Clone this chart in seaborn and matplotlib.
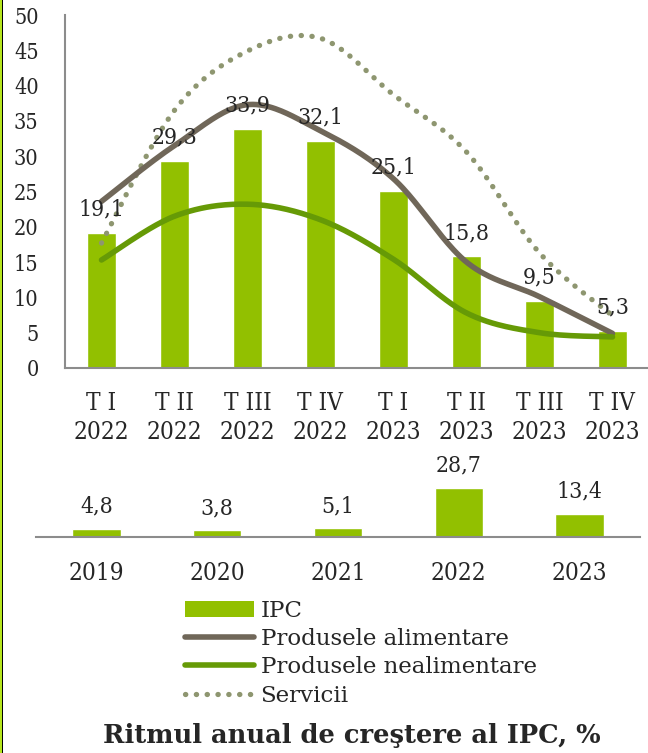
import numpy as np
import pandas as pd
import seaborn as sns
import matplotlib.pyplot as plt
from matplotlib.patches import Patch, Rectangle
from matplotlib.lines import Line2D

# data
quarters = ["T I\n2022", "T II\n2022", "T III\n2022", "T IV\n2022",
            "T I\n2023", "T II\n2023", "T III\n2023", "T IV\n2023"]
ipc = [19.1, 29.3, 33.9, 32.1, 25.1, 15.8, 9.5, 5.3]
alimentare = [23.6, 31.5, 37.3, 33.6, 26.8, 15.0, 10.1, 4.9]
nealimentare = [15.3, 21.5, 23.2, 21.0, 15.4, 7.8, 5.0, 4.4]
servicii = [17.7, 36.5, 44.9, 46.7, 38.7, 30.6, 16.3, 7.4]

years = ["2019", "2020", "2021", "2022", "2023"]
ipc_annual = [4.8, 3.8, 5.1, 28.7, 13.4]

BAR = "#92C000"
BROWN = "#706759"
DGREEN = "#669A06"
DOTS = "#8E9670"
AXC = "#8C8C8C"

sns.set_style("white")
plt.rcParams["font.family"] = ["DejaVu Serif", "Liberation Serif"]
plt.rcParams["font.stretch"] = "condensed"


def smooth(y, n=40):
    # excel-like smoothed line (bezier through the points)
    x = np.arange(len(y), dtype=float)
    pts = np.column_stack([x, y])
    ext = np.vstack([pts[0], pts, pts[-1]])
    out = []
    t = np.linspace(0, 1, n)[:, None]
    for i in range(len(pts) - 1):
        p0, p1, p2, p3 = ext[i], ext[i + 1], ext[i + 2], ext[i + 3]
        c1 = p1 + (p2 - p0) / 6
        c2 = p2 - (p3 - p1) / 6
        out.append((1 - t) ** 3 * p1 + 3 * (1 - t) ** 2 * t * c1
                   + 3 * (1 - t) * t ** 2 * c2 + t ** 3 * p2)
    s = np.vstack(out)
    return pd.DataFrame({"x": s[:, 0], "y": s[:, 1]})


def fmt(v):
    return f"{v:.1f}".replace(".", ",")


fig = plt.figure(figsize=(6.48, 7.53), dpi=100)
W, H = 648, 753

# top chart: quarterly
ax = fig.add_axes([65 / W, 1 - 368 / H, 584 / W, 353 / H])
sns.barplot(x=quarters, y=ipc, color=BAR, saturation=1, width=0.4, ax=ax, zorder=1)
sns.lineplot(data=smooth(servicii), x="x", y="y", ax=ax, color=DOTS, lw=3.8,
             linestyle=(0, (0.05, 2.0)), dash_capstyle="round", sort=False, zorder=2)
sns.lineplot(data=smooth(alimentare), x="x", y="y", ax=ax, color=BROWN, lw=4,
             sort=False, solid_capstyle="round", zorder=3)
sns.lineplot(data=smooth(nealimentare), x="x", y="y", ax=ax, color=DGREEN, lw=4,
             sort=False, solid_capstyle="round", zorder=3)
ax.bar_label(ax.containers[0], labels=[fmt(v) for v in ipc], padding=9,
             fontsize=16.5, zorder=5)
ax.set_xlim(-0.5, 7.5)
ax.set_ylim(0, 50)
ax.set_yticks(range(0, 51, 5))
ax.set_xticks(range(8), quarters)
ax.set_xticks(np.arange(-0.5, 8, 1), minor=True)
ax.tick_params(axis="x", which="major", length=0, pad=17, labelsize=17.5)
ax.tick_params(axis="x", which="minor", length=8, width=1.5, color=AXC, direction="out")
ax.tick_params(axis="y", length=8, width=1.5, color=AXC, pad=11, labelsize=15.5, direction="out")
ax.set_xlabel("")
ax.set_ylabel("")
for s in ["top", "right"]:
    ax.spines[s].set_visible(False)
for s in ["left", "bottom"]:
    ax.spines[s].set_color(AXC)
    ax.spines[s].set_linewidth(1.5)
for lab in ax.get_xticklabels():
    lab.set_linespacing(1.35)

# bottom chart: annual
ax2 = fig.add_axes([36 / W, 1 - 537 / H, 604 / W, 92 / H])
sns.barplot(x=years, y=ipc_annual, color=BAR, saturation=1, width=0.4, ax=ax2)
ax2.bar_label(ax2.containers[0], labels=[fmt(v) for v in ipc_annual], padding=8,
              fontsize=16.5)
ax2.set_xlim(-0.5, 4.5)
ax2.set_ylim(0, 53.5)
ax2.set_yticks([])
ax2.set_xticks(range(5), years)
ax2.set_xticks(np.arange(-0.5, 5, 1), minor=True)
ax2.tick_params(axis="x", which="major", length=0, pad=18, labelsize=17.5)
ax2.tick_params(axis="x", which="minor", length=8, width=1.5, color=AXC, direction="out")
ax2.set_xlabel("")
ax2.set_ylabel("")
for s in ["top", "right", "left"]:
    ax2.spines[s].set_visible(False)
ax2.spines["bottom"].set_color(AXC)
ax2.spines["bottom"].set_linewidth(1.5)

# legend
handles = [
    Patch(facecolor=BAR, edgecolor="none", label="IPC"),
    Line2D([], [], color=BROWN, lw=4, solid_capstyle="round", label="Produsele alimentare"),
    Line2D([], [], color=DGREEN, lw=4, solid_capstyle="round", label="Produsele nealimentare"),
    Line2D([], [], color=DOTS, lw=3.8, linestyle=(0, (0.05, 2.0)),
           dash_capstyle="round", label="Servicii"),
]
fig.legend(handles=handles, loc="upper left", bbox_to_anchor=(185 / W, 1 - 600 / H),
           frameon=False, prop={"size": 16.5, "stretch": "normal"},
           borderpad=0, borderaxespad=0, handlelength=3.0, handleheight=0.7,
           handletextpad=0.3, labelspacing=0.27)

fig.text(352 / W, 1 - 736 / H, "Ritmul anual de creştere al IPC, %", ha="center",
         va="center", fontsize=18.5, fontweight="bold", fontstretch="normal")

# green/black left edge of the original frame
fig.patches.append(Rectangle((0, 0), 2 / W, 1, transform=fig.transFigure,
                             facecolor="#B5E61D", edgecolor="none"))
fig.patches.append(Rectangle((2 / W, 0), 1.2 / W, 1, transform=fig.transFigure,
                             facecolor="black", edgecolor="none"))

fig.savefig("out.png", dpi=100)
